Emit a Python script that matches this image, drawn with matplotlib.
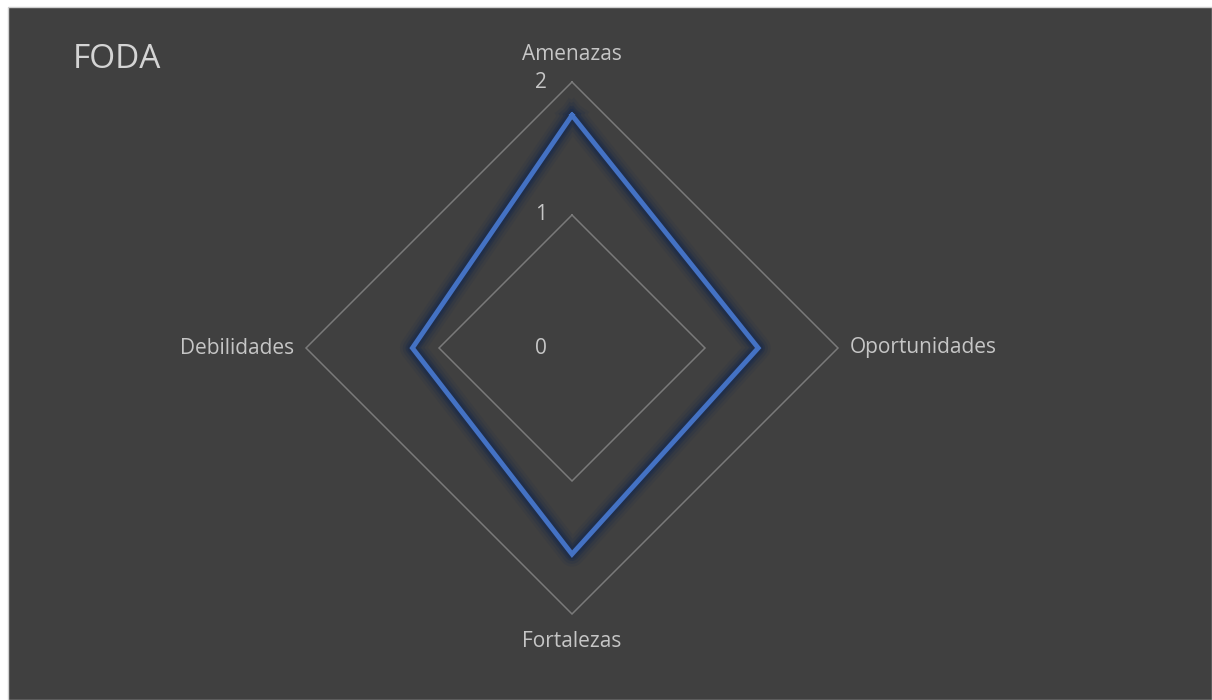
import numpy as np
import matplotlib
matplotlib.use('Agg')
import matplotlib.pyplot as plt
from matplotlib.patches import Rectangle

plt.rcParams['font.family'] = ['Open Sans', 'DejaVu Sans']

# data
title = 'FODA'
categories = ['Amenazas', 'Oportunidades', 'Fortalezas', 'Debilidades']
values = [1.75, 1.4, 1.55, 1.2]
ring_values = [1, 2]
tick_values = [0, 1, 2]
tick_labels = ['0', '1', '2']

text_color = '#c6c6c6'
title_color = '#d4d4d4'
grid_color = '#7a7a7a'
line_color = '#4472c4'
glow_color = '#1a2a4a'

angles = np.linspace(0, 2 * np.pi, len(categories), endpoint=False)
angles_closed = np.append(angles, angles[0])
values_closed = values + values[:1]

fig = plt.figure(figsize=(12.12, 7), dpi=100, facecolor='white')
fig.add_artist(Rectangle((8 / 1212, 0), 1 - 8 / 1212, 693 / 700, transform=fig.transFigure,
                         facecolor='#404040', edgecolor='#cfcfcf', lw=1, zorder=0))

# polar axes: centre (572, 348) px, radius 266 px
cx, cy, rad = 572 / 1212, 1 - 348 / 700, 266
ax = fig.add_axes([cx - rad / 1212, cy - rad / 700, 2 * rad / 1212, 2 * rad / 700], projection='polar')
ax.set_theta_zero_location('N')
ax.set_theta_direction(-1)
ax.set_ylim(0, 2)
ax.patch.set_alpha(0)
ax.spines['polar'].set_visible(False)
ax.grid(False)
ax.set_xticks([])
ax.set_yticks([])

# polygon gridlines
for r in ring_values:
	ax.plot(angles_closed, [r] * len(angles_closed), color=grid_color, lw=1.1,
			solid_joinstyle='miter', clip_on=False)

# glow under the series line
for w, a in [(18, 0.12), (14, 0.2), (10, 0.35), (7, 0.5)]:
	ax.plot(angles_closed, values_closed, color=glow_color, lw=w, alpha=a,
			solid_joinstyle='round', clip_on=False)
ax.plot(angles_closed, values_closed, color=line_color, lw=3.5, solid_joinstyle='miter', clip_on=False)

# value axis labels
for v, lab in zip(tick_values, tick_labels):
	ax.annotate(lab, xy=(0, v), xytext=(-31, 0), textcoords='offset pixels',
				ha='center', va='center', color=text_color, fontsize=15, annotation_clip=False)

# category labels
label_pos = [(2.21, 'center', 'center'), (2.09, 'left', 'center'),
			 (2.21, 'center', 'center'), (2.09, 'right', 'center')]
for ang, lab, (r, ha, va) in zip(angles, categories, label_pos):
	ax.text(ang, r, lab, ha=ha, va=va, color=text_color, fontsize=15)

fig.text(73 / 1212, 1 - 60 / 700, title, ha='left', va='center', color=title_color, fontsize=24)

fig.savefig('out.png', dpi=100, facecolor=fig.get_facecolor())
